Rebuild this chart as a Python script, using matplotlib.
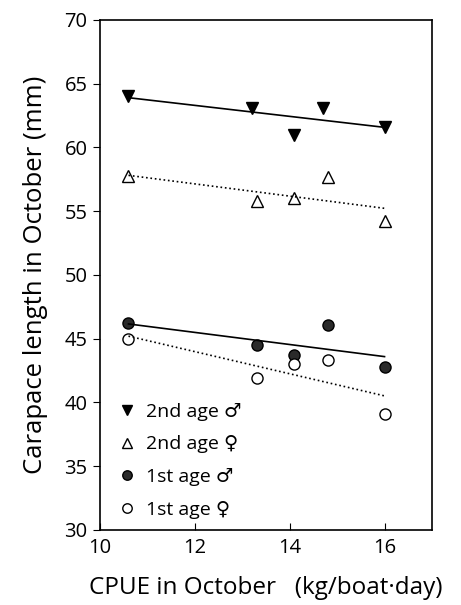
import numpy as np
import matplotlib
matplotlib.use("Agg")
import matplotlib.pyplot as plt

plt.rcParams['font.family'] = ['Open Sans', 'DejaVu Sans']

# Data
x_2m = [10.6, 13.2, 14.1, 14.7, 16.0]
y_2m = [64.0, 63.1, 61.0, 63.1, 61.6]
x_2f = [10.6, 13.3, 14.1, 14.8, 16.0]
y_2f = [57.8, 55.8, 56.0, 57.7, 54.2]
x_1m = [10.6, 13.3, 14.1, 14.8, 16.0]
y_1m = [46.2, 44.5, 43.7, 46.1, 42.8]
x_1f = [10.6, 13.3, 14.1, 14.8, 16.0]
y_1f = [45.0, 41.9, 43.0, 43.3, 39.1]

labels = ["2nd age \u2642", "2nd age \u2640", "1st age \u2642", "1st age \u2640"]
xticks = [10, 12, 14, 16]
yticks = [30, 35, 40, 45, 50, 55, 60, 65, 70]

fig = plt.figure(figsize=(4.61, 6.05), dpi=100)
ax = fig.add_axes([0.217, 0.124, 0.72, 0.843])

series = [
    (x_2m, y_2m, dict(marker='v', mfc='black', mec='black'), '-'),
    (x_2f, y_2f, dict(marker='^', mfc='white', mec='black'), ':'),
    (x_1m, y_1m, dict(marker='o', mfc='#2a2a2a', mec='black'), '-'),
    (x_1f, y_1f, dict(marker='o', mfc='white', mec='black'), ':'),
]
handles = []
for (xs, ys, mk, ls), lab in zip(series, labels):
    h, = ax.plot(xs, ys, linestyle='none', markersize=8, mew=1.0, label=lab, **mk)
    handles.append(h)
    xs_a = np.array(xs); ys_a = np.array(ys)
    p = np.polyfit(xs_a, ys_a, 1)
    xl = np.array([xs_a.min(), xs_a.max()])
    ax.plot(xl, np.polyval(p, xl), color='black', linestyle=ls, linewidth=1.2)

ax.set_xlim(10, 17)
ax.set_ylim(30, 70)
ax.set_xticks(xticks)
ax.set_yticks(yticks)
ax.tick_params(axis='x', direction='in', length=5, labelsize=14.5, pad=6)
ax.tick_params(axis='y', direction='out', length=5, labelsize=14.5, pad=4)
for s in ax.spines.values():
    s.set_linewidth(1.2)

ax.set_ylabel("Carapace length in October (mm)", fontsize=18.5, labelpad=12)
ax.set_xlabel("CPUE in October   (kg/boat\u00b7day)", fontsize=17.5, labelpad=13)

leg = ax.legend(handles=handles, loc='lower left', bbox_to_anchor=(0.005, -0.012),
                frameon=False, fontsize=14, handlelength=0.8, handletextpad=0.6,
                labelspacing=0.75, markerscale=0.85)

fig.savefig("out.png", dpi=100)
